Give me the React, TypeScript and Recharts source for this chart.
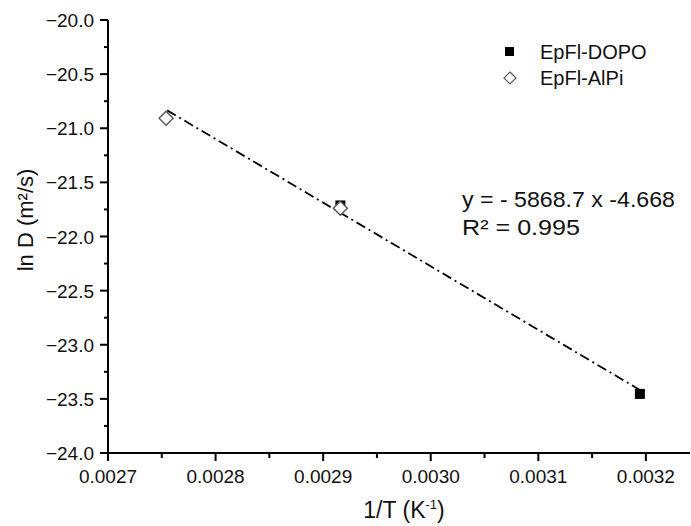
import { ComposedChart, Scatter, Line, XAxis, YAxis, Legend } from 'recharts';

// measured points (1/T, ln D)
const dopoX = [0.002916, 0.0031944];
const dopoY = [-21.713, -23.454];
const alpiX = [0.002754, 0.002916];
const alpiY = [-20.907, -21.74];
// linear fit, drawn between its two ends
const fitX = [0.002755, 0.003194];
const fitY = [-20.835, -23.415];

const xMajor = [0.0027, 0.0028, 0.0029, 0.003, 0.0031, 0.0032];
const xMinor = [0.00275, 0.00285, 0.00295, 0.00305, 0.00315];
const yMajor = [-24, -23.5, -23, -22.5, -22, -21.5, -21, -20.5, -20];
const yMinor = [-23.75, -23.25, -22.75, -22.25, -21.75, -21.25, -20.75, -20.25];

const seriesNames = ['EpFl-DOPO', 'EpFl-AlPi'];
const equation = 'y = - 5868.7 x -4.668';
const rSquared = 'R² = 0.995';

const font = '"Liberation Sans", Arial, sans-serif';

const toPoints = (xs: number[], ys: number[]) => xs.map((x, i) => ({ x, y: ys[i] }));
const dopoData = toPoints(dopoX, dopoY);
const alpiData = toPoints(alpiX, alpiY);
const fitData = toPoints(fitX, fitY);

const isIn = (list: number[], v: number) => list.some((t) => Math.abs(t - v) < 1e-9);

function XTick(props: any) {
  const { x, y, payload } = props;
  const major = isIn(xMajor, payload.value);
  return (
    <g>
      <line x1={x} x2={x} y1={y} y2={y + (major ? 8 : 5)} stroke="#000" strokeWidth={2} />
      {major && (
        <text x={x} y={y + 30} textAnchor="middle" fontSize={19} fontFamily={font} fill="#111">
          {payload.value.toFixed(4)}
        </text>
      )}
    </g>
  );
}

function YTick(props: any) {
  const { x, y, payload } = props;
  const major = isIn(yMajor, payload.value);
  return (
    <g>
      <line x1={x - (major ? 8 : 4)} x2={x} y1={y} y2={y} stroke="#000" strokeWidth={2} />
      {major && (
        <text x={x - 14} y={y + 7} textAnchor="end" fontSize={19} fontFamily={font} fill="#111">
          {payload.value.toFixed(1).replace('-', '\u2212')}
        </text>
      )}
    </g>
  );
}

const SquareDot = (props: any) => (
  <rect x={props.cx - 5} y={props.cy - 5} width={10} height={10} fill="#000" />
);

const DiamondDot = (props: any) => {
  const { cx, cy } = props;
  const r = 7;
  return (
    <polygon
      points={`${cx},${cy - r} ${cx + r},${cy} ${cx},${cy + r} ${cx - r},${cy}`}
      fill="#fff"
      stroke="#555"
      strokeWidth={1.4}
    />
  );
};

function LegendBox() {
  return (
    <svg width={180} height={60}>
      <rect x={10} y={12} width={9} height={9} fill="#000" />
      <text x={45} y={24} fontSize={20} fontFamily={font} fill="#111">{seriesNames[0]}</text>
      <polygon points="15,37 21,43 15,49 9,43" fill="#fff" stroke="#555" strokeWidth={1.2} />
      <text x={45} y={50} fontSize={20} fontFamily={font} fill="#111">{seriesNames[1]}</text>
    </svg>
  );
}

export default function App() {
  return (
    <div style={{ position: 'absolute', left: 0, top: 0, width: 691, height: 526, background: '#fff' }}>
      <ComposedChart
        width={691}
        height={526}
        margin={{ top: 20, right: 1, left: 8, bottom: 33 }}
      >
        <XAxis
          type="number"
          dataKey="x"
          domain={[0.0027, 0.003241]}
          allowDataOverflow
          ticks={[...xMajor, ...xMinor].sort((a, b) => a - b)}
          interval={0}
          tick={<XTick />}
          tickLine={false}
          tickSize={0}
          tickMargin={0}
          height={40}
          axisLine={{ stroke: '#000', strokeWidth: 2 }}
        />
        <YAxis
          type="number"
          dataKey="y"
          domain={[-24, -20]}
          allowDataOverflow
          ticks={[...yMajor, ...yMinor].sort((a, b) => a - b)}
          interval={0}
          tick={<YTick />}
          tickLine={false}
          tickSize={0}
          tickMargin={0}
          width={100}
          axisLine={{ stroke: '#000', strokeWidth: 2 }}
        />
        <Line
          data={fitData}
          dataKey="y"
          type="linear"
          stroke="#000"
          strokeWidth={1.8}
          strokeDasharray="10 4 2 4"
          dot={false}
          activeDot={false}
          legendType="none"
          isAnimationActive={false}
        />
        <Scatter name={seriesNames[0]} data={dopoData} dataKey="y" shape={<SquareDot />} isAnimationActive={false} />
        <Scatter name={seriesNames[1]} data={alpiData} dataKey="y" shape={<DiamondDot />} isAnimationActive={false} />
        <Legend
          layout="vertical"
          align="center"
          verticalAlign="middle"
          content={<LegendBox />}
          wrapperStyle={{ position: 'absolute', left: 495, top: 35, width: 180, height: 60 }}
        />
      </ComposedChart>
      <svg
        width={691}
        height={526}
        style={{ position: 'absolute', left: 0, top: 0, pointerEvents: 'none' }}
      >
        <text x={462} y={207} fontSize={22} fontFamily={font} fill="#111" textLength={213} lengthAdjust="spacingAndGlyphs">
          {equation}
        </text>
        <text x={462} y={235} fontSize={22} fontFamily={font} fill="#111" textLength={118} lengthAdjust="spacingAndGlyphs">
          {rSquared}
        </text>
        <text x={404} y={518} textAnchor="middle" fontSize={23} fontFamily={font} fill="#111">
          1/T (K
          <tspan fontSize={13} dy={-9}>-1</tspan>
          <tspan dy={9}>)</tspan>
        </text>
        <text
          x={0}
          y={0}
          transform="translate(33, 220) rotate(-90)"
          textAnchor="middle"
          fontSize={22}
          fontFamily={font}
          fill="#111"
        >
          ln D (m²/s)
        </text>
      </svg>
    </div>
  );
}
